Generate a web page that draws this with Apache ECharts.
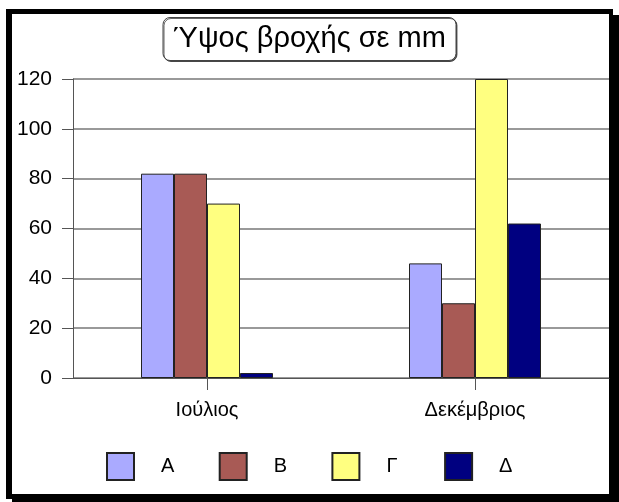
<!DOCTYPE html>
<html>
<head>
<meta charset="utf-8">
<script src="https://cdn.jsdelivr.net/npm/echarts@6/dist/echarts.min.js"></script>
<style>
  html, body { margin: 0; padding: 0; background: #ffffff; }
  #chart { width: 619px; height: 502px; }
</style>
</head>
<body>
<div id="chart"></div>
<script>
var months = ['Ιούλιος', 'Δεκέμβριος'];
var seriesNames = ['Α', 'Β', 'Γ', 'Δ'];
var valuesA = [82, 46];
var valuesB = [82, 30];
var valuesG = [70, 120];
var valuesD = [2, 62];
var yTicks = [0, 20, 40, 60, 80, 100, 120];

var colors = ['#aaaaff', '#a85a55', '#ffff80', '#000080'];
var allValues = [valuesA, valuesB, valuesG, valuesD];
var font = '"Liberation Sans", Arial, sans-serif';

var myChart = echarts.init(document.getElementById('chart'));

var series = seriesNames.map(function (name, i) {
  return {
    name: name,
    type: 'bar',
    barWidth: 33,
    barGap: 0,
    itemStyle: { color: colors[i], borderColor: '#222', borderWidth: 1 },
    data: allValues[i]
  };
});

// ένα legend για κάθε σειρά ώστε να μπουν στις ίδιες θέσεις
var legends = seriesNames.map(function (name, i) {
  return {
    data: [name],
    left: 106 + 112.7 * i,
    top: 452,
    padding: 0,
    icon: 'rect',
    itemWidth: 27,
    itemHeight: 27,
    textStyle: { fontFamily: font, fontSize: 20, color: '#000', padding: [0, 0, 0, 22] }
  };
});

myChart.setOption({
  backgroundColor: '#ffffff',
  animation: false,
  graphic: [
    { type: 'rect', shape: { x: 12, y: 15, width: 607, height: 487 }, style: { fill: '#000' }, z: -10 },
    { type: 'rect', shape: { x: 6, y: 9, width: 607, height: 490 }, style: { fill: '#000' }, z: -9 },
    { type: 'rect', shape: { x: 12, y: 14, width: 597, height: 480 }, style: { fill: '#fff' }, z: -8 }
  ],
  title: {
    text: 'Ύψος βροχής σε mm',
    left: 'center',
    top: 17,
    padding: [6, 10, 6, 10],
    backgroundColor: '#fff',
    borderColor: '#444',
    borderWidth: 1,
    borderRadius: 7,
    shadowColor: 'rgba(0,0,0,0.6)',
    shadowOffsetX: 1,
    shadowOffsetY: 1,
    textStyle: { fontFamily: font, fontSize: 29, fontWeight: 'normal', color: '#000', lineHeight: 32 }
  },
  legend: legends,
  grid: { left: 73, right: 10, top: 79, bottom: 124, containLabel: false },
  xAxis: {
    type: 'category',
    data: months,
    axisLine: { lineStyle: { color: '#555', width: 1 } },
    axisTick: { show: true, alignWithLabel: true, length: 12, lineStyle: { color: '#555' } },
    axisLabel: { margin: 22, fontFamily: font, fontSize: 20, color: '#000' }
  },
  yAxis: {
    type: 'value',
    min: yTicks[0],
    max: yTicks[yTicks.length - 1],
    interval: 20,
    axisLine: { show: true, lineStyle: { color: '#555', width: 1 } },
    axisTick: { show: true, inside: false, length: 11, lineStyle: { color: '#555' } },
    axisLabel: { margin: 21, fontFamily: font, fontSize: 21, color: '#000' },
    splitLine: { show: true, lineStyle: { color: '#777', width: 1.5 } }
  },
  series: series
});
</script>
</body>
</html>
